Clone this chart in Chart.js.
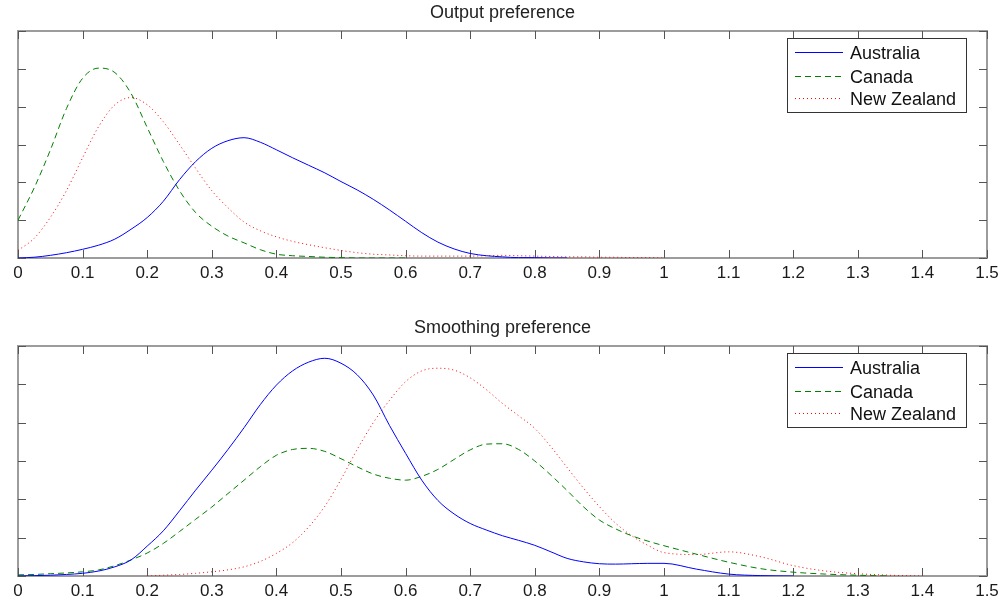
<!DOCTYPE html>
<html>
<head>
<meta charset="utf-8">
<script src="https://cdn.jsdelivr.net/npm/chart.js@4/dist/chart.umd.min.js"></script>
<style>
  body { margin: 0; background: #fff; }
  .panel { position: absolute; left: 0; width: 1004px; }
  #topPanel { top: 0; height: 300px; }
  #bottomPanel { top: 300px; height: 304px; }
</style>
</head>
<body>
<div class="panel" id="topPanel"><canvas id="outputChart" width="1004" height="300"></canvas></div>
<div class="panel" id="bottomPanel"><canvas id="smoothChart" width="1004" height="304"></canvas></div>
<script>
// Tick labels / series names
const xTickValues = [0, 0.1, 0.2, 0.3, 0.4, 0.5, 0.6, 0.7, 0.8, 0.9, 1, 1.1, 1.2, 1.3, 1.4, 1.5];
const yTickValues = [0, 1, 2, 3, 4, 5, 6];
const seriesNames = ['Australia', 'Canada', 'New Zealand'];

// Output preference (top)
const outputX = [0, 0.025, 0.05, 0.075, 0.1, 0.125, 0.15, 0.175, 0.2, 0.225, 0.25, 0.275, 0.3, 0.325, 0.35, 0.375,
    0.4, 0.425, 0.45, 0.475, 0.5, 0.525, 0.55, 0.575, 0.6, 0.625, 0.65, 0.675, 0.7, 0.725, 0.75, 0.775,
    0.8, 0.825, 0.85, 0.875, 0.9, 0.925, 0.95, 0.975, 1.0];
const outputAustralia = [0, 0.02, 0.07, 0.14, 0.23, 0.34, 0.5, 0.76, 1.07, 1.5, 2.07, 2.55, 2.9, 3.1, 3.18, 3.06,
    2.86, 2.65, 2.45, 2.25, 2.02, 1.8, 1.55, 1.27, 0.97, 0.67, 0.42, 0.24, 0.12, 0.06, 0.03, 0.01,
    0.01, 0, 0, null, null, null, null, null, null];
const outputCanada = [1.0, 1.85, 2.85, 3.95, 4.75, 5.02, 4.9, 4.35, 3.45, 2.55, 1.78, 1.2, 0.84, 0.58, 0.4, 0.22,
    0.1, 0.06, 0.04, 0.02, 0.01, 0, 0, 0, 0, null, null, null, null, null, null, null,
    null, null, null, null, null, null, null, null, null];
const outputNewZealand = [0.2, 0.52, 1.07, 1.78, 2.65, 3.48, 4.05, 4.24, 4.05, 3.6, 3.0, 2.37, 1.78, 1.33, 0.95, 0.72,
    0.56, 0.44, 0.35, 0.27, 0.2, 0.14, 0.1, 0.08, 0.06, 0.05, 0.05, 0.05, 0.05, 0.06, 0.07, 0.06,
    0.05, 0.04, 0.03, 0.03, 0.02, 0.02, 0.01, 0.01, 0];

// Smoothing preference (bottom)
const smoothX = [0, 0.025, 0.05, 0.075, 0.1, 0.125, 0.15, 0.175, 0.2, 0.225, 0.25, 0.275, 0.3, 0.325, 0.35, 0.375,
    0.4, 0.425, 0.45, 0.475, 0.5, 0.525, 0.55, 0.575, 0.6, 0.625, 0.65, 0.675, 0.7, 0.725, 0.75, 0.775,
    0.8, 0.825, 0.85, 0.875, 0.9, 0.925, 0.95, 0.975, 1.0, 1.05, 1.1, 1.15, 1.2, 1.25, 1.3, 1.35, 1.4, 1.45];
const smoothAustralia = [0, 0.01, 0.02, 0.04, 0.07, 0.13, 0.24, 0.42, 0.78, 1.18, 1.7, 2.24, 2.76, 3.3, 3.87, 4.47,
    4.98, 5.35, 5.58, 5.68, 5.55, 5.25, 4.72, 3.93, 3.2, 2.5, 1.97, 1.62, 1.37, 1.2, 1.05, 0.93,
    0.8, 0.63, 0.46, 0.37, 0.32, 0.31, 0.32, 0.33, 0.33, 0.18, 0.05, 0.01, 0, null, null, null, null, null];
const smoothCanada = [0.03, 0.04, 0.06, 0.08, 0.11, 0.16, 0.27, 0.42, 0.6, 0.85, 1.16, 1.48, 1.8, 2.15, 2.5, 2.85,
    3.15, 3.3, 3.33, 3.25, 3.06, 2.85, 2.66, 2.55, 2.5, 2.6, 2.78, 3.04, 3.29, 3.44, 3.45, 3.3,
    3.0, 2.63, 2.23, 1.81, 1.46, 1.23, 1.05, 0.91, 0.79, 0.57, 0.36, 0.19, 0.1, 0.05, 0.02, 0, null, null];
const smoothNewZealand = [null, null, null, null, null, null, null, null, 0, 0.02, 0.04, 0.07, 0.11, 0.16, 0.24, 0.38,
    0.59, 0.87, 1.28, 1.82, 2.52, 3.3, 4.0, 4.58, 5.07, 5.35, 5.42, 5.37, 5.17, 4.86, 4.5, 4.18,
    3.85, 3.37, 2.83, 2.3, 1.81, 1.38, 1.05, 0.8, 0.61, 0.56, 0.63, 0.5, 0.27, 0.13, 0.06, 0.02, 0, null];

const lineColors = ['#0000ff', '#008000', '#ff0000'];
const lineDashes = [[], [6, 4], [1, 3]];
const FONT = "'Liberation Sans', Arial, sans-serif";

// MATLAB-like frame: box, inward ticks, title and legend inside the axes
const framePlugin = {
    id: 'matlabFrame',
    beforeDatasetsDraw(chart) {
        const { ctx, chartArea: a, scales } = chart;
        ctx.save();
        ctx.strokeStyle = '#9c9c9c';
        ctx.lineWidth = 2;
        ctx.strokeRect(a.left, a.top, a.right - a.left, a.bottom - a.top);
        ctx.strokeStyle = '#555';
        ctx.lineWidth = 1;
        ctx.beginPath();
        xTickValues.forEach(v => {
            const px = Math.round(scales.x.getPixelForValue(v)) + 0.5;
            ctx.moveTo(px, a.bottom); ctx.lineTo(px, a.bottom - 8);
            ctx.moveTo(px, a.top); ctx.lineTo(px, a.top + 8);
        });
        yTickValues.forEach(v => {
            const py = Math.round(scales.y.getPixelForValue(v)) + 0.5;
            ctx.moveTo(a.left, py); ctx.lineTo(a.left + 8, py);
            ctx.moveTo(a.right, py); ctx.lineTo(a.right - 8, py);
        });
        ctx.stroke();
        ctx.restore();
    },
    afterDraw(chart, args, opts) {
        const { ctx, chartArea: a } = chart;
        ctx.save();
        // title
        ctx.fillStyle = '#222';
        ctx.font = '18px ' + FONT;
        ctx.textAlign = 'center';
        ctx.textBaseline = 'alphabetic';
        ctx.fillText(opts.title, (a.left + a.right) / 2, a.top - 13);

        // legend box
        const bx = a.right - 200, by = a.top + 7, bw = 179, bh = 74;
        ctx.fillStyle = '#fff';
        ctx.fillRect(bx, by, bw, bh);
        ctx.strokeStyle = '#333';
        ctx.lineWidth = 1;
        ctx.strokeRect(bx + 0.5, by + 0.5, bw, bh);
        const rows = [21, 44.5, 67];
        ctx.textAlign = 'left';
        chart.data.datasets.forEach((ds, i) => {
            const ly = Math.round(a.top + rows[i]) + 0.5;
            ctx.strokeStyle = ds.borderColor;
            ctx.setLineDash(ds.borderDash);
            ctx.beginPath();
            ctx.moveTo(bx + 8, ly);
            ctx.lineTo(bx + 56, ly);
            ctx.stroke();
            ctx.setLineDash([]);
            ctx.fillStyle = '#111';
            ctx.fillText(ds.label, bx + 63, ly + 6.5);
        });
        ctx.restore();
    }
};

function makeChart(canvasId, title, xs, seriesList, padTop, axisHeight) {
    const ctx = document.getElementById(canvasId).getContext('2d');
    return new Chart(ctx, {
        type: 'line',
        data: {
            datasets: seriesList.map((values, i) => ({
                label: seriesNames[i],
                data: xs.map((x, j) => ({ x: x, y: values[j] })),
                borderColor: lineColors[i],
                borderDash: lineDashes[i],
                borderWidth: 1,
                pointRadius: 0,
                fill: false,
                cubicInterpolationMode: 'monotone',
                spanGaps: false
            }))
        },
        options: {
            responsive: false,
            devicePixelRatio: 1,
            animation: false,
            layout: { padding: { left: 18, right: 17, top: padTop, bottom: 0 } },
            plugins: {
                legend: { display: false },
                title: { display: false },
                tooltip: { enabled: false },
                matlabFrame: { title: title }
            },
            scales: {
                x: {
                    type: 'linear',
                    min: 0,
                    max: 1.5,
                    grid: { display: false, drawTicks: false },
                    border: { display: false },
                    afterBuildTicks: s => { s.ticks = xTickValues.map(v => ({ value: v })); },
                    afterFit: s => { s.height = axisHeight; },
                    ticks: {
                        autoSkip: false,
                        maxRotation: 0,
                        padding: 5,
                        color: '#1a1a1a',
                        font: { family: FONT, size: 17 },
                        callback: v => String(+Number(v).toFixed(1))
                    }
                },
                y: {
                    min: 0,
                    max: 6,
                    grid: { display: false, drawTicks: false },
                    border: { display: false },
                    ticks: { display: false },
                    afterFit: s => { s.width = 0; }
                }
            }
        },
        plugins: [framePlugin]
    });
}

makeChart('outputChart', 'Output preference', outputX,
    [outputAustralia, outputCanada, outputNewZealand], 31, 42);
makeChart('smoothChart', 'Smoothing preference', smoothX,
    [smoothAustralia, smoothCanada, smoothNewZealand], 46, 28);
</script>
</body>
</html>
